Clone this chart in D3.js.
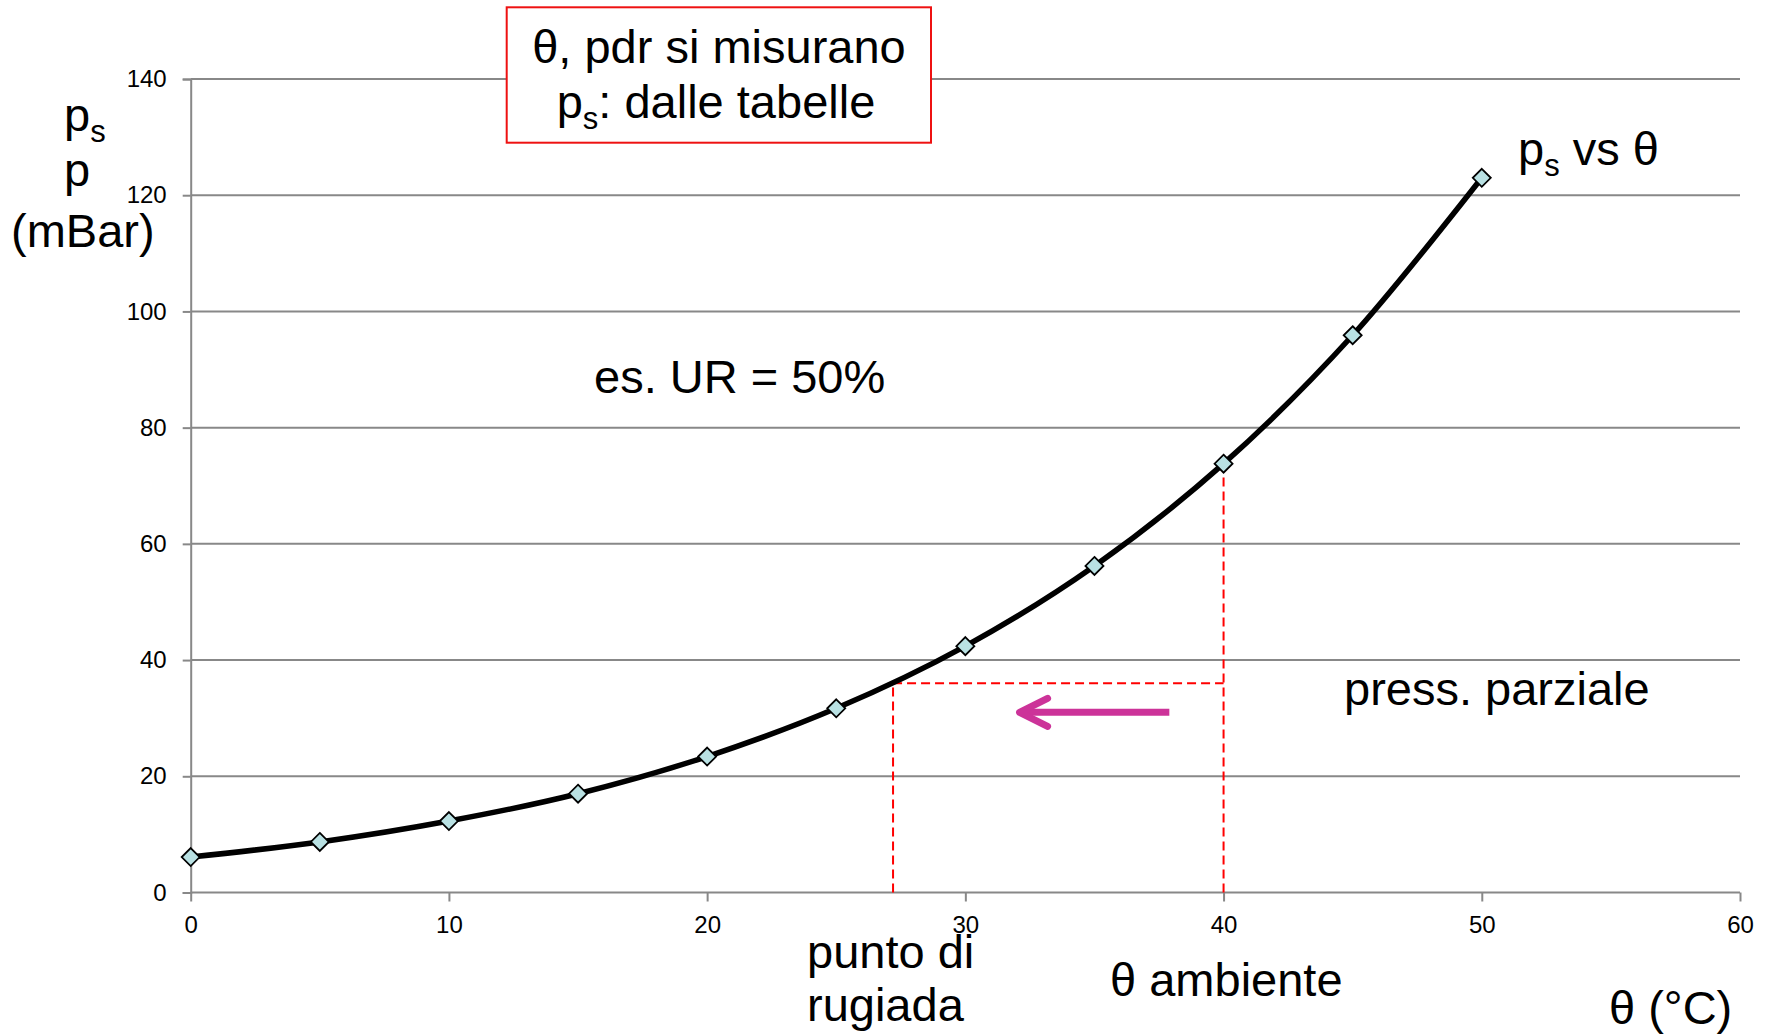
<!DOCTYPE html>
<html>
<head>
<meta charset="utf-8">
<script src="https://cdn.jsdelivr.net/npm/d3@7"></script>
<style>
  body { margin: 0; background: #fff; }
  svg { display: block; font-family: "Liberation Sans", Arial, sans-serif; }
</style>
</head>
<body>
<svg id="chart" width="1769" height="1035"></svg>
<script>
// saturation pressure
const temps = [0, 5, 10, 15, 20, 25, 30, 35, 40, 45, 50]
const psat = [6.1, 8.7, 12.3, 17.0, 23.4, 31.7, 42.4, 56.2, 73.8, 95.9, 123.0]
const xTicks = [0, 10, 20, 30, 40, 50, 60]
const yTicks = [0, 20, 40, 60, 80, 100, 120, 140]

// example: ambient 40 C, partial pressure ~36 mbar, dew point ~27.2 C
const tAmb = 40
const pAmb = 73.8
const pPart = 36.0
const tDew = 27.2
const arrowFrom = 37.9, arrowTo = 32.1, arrowP = 31.0

const svg = d3.select("#chart")
const W = 1769, H = 1035

svg.append("rect").attr("width", W).attr("height", H).attr("fill", "#fff")

const x = d3.scaleLinear().domain([0, 60]).range([190.7, 1740])
const y = d3.scaleLinear().domain([0, 140]).range([892.5, 79])

const grey = "#888888"

// gridlines
svg.append("g")
  .selectAll("line")
  .data(yTicks.filter(d => d > 0))
  .enter().append("line")
  .attr("x1", x(0)).attr("x2", x(60))
  .attr("y1", d => y(d)).attr("y2", d => y(d))
  .attr("stroke", grey).attr("stroke-width", 2)

// y axis
let yAxis = svg.append("g")
  .attr("transform", `translate(${x(0)},0)`)
  .call(d3.axisLeft(y).tickValues(yTicks).tickSize(8).tickPadding(16))
yAxis.select(".domain").attr("stroke", grey).attr("stroke-width", 2)
yAxis.selectAll(".tick line").attr("stroke", grey).attr("stroke-width", 2)
yAxis.selectAll("text").attr("font-size", 24).attr("fill", "#000")
  .attr("font-family", "Liberation Sans, Arial, sans-serif")

// x axis
let xAxis = svg.append("g")
  .attr("transform", `translate(0,${y(0)})`)
  .call(d3.axisBottom(x).tickValues(xTicks).tickSize(9).tickPadding(14))
xAxis.select(".domain").attr("stroke", grey).attr("stroke-width", 2)
  .attr("d", `M${x(0)},0H${x(60)}`)
xAxis.selectAll(".tick line").attr("stroke", grey).attr("stroke-width", 2)
xAxis.selectAll("text").attr("font-size", 24).attr("fill", "#000")
  .attr("font-family", "Liberation Sans, Arial, sans-serif")

// red dashed construction lines
const dash = "9,5"
svg.append("line")
  .attr("x1", x(tAmb)).attr("x2", x(tAmb))
  .attr("y1", y(0)).attr("y2", y(pAmb))
  .attr("stroke", "#ff0000").attr("stroke-width", 2).attr("stroke-dasharray", dash)
svg.append("line")
  .attr("x1", x(tDew)).attr("x2", x(tDew))
  .attr("y1", y(0)).attr("y2", y(pPart))
  .attr("stroke", "#ff0000").attr("stroke-width", 2).attr("stroke-dasharray", dash)
svg.append("line")
  .attr("x1", x(tDew)).attr("x2", x(tAmb))
  .attr("y1", y(pPart)).attr("y2", y(pPart))
  .attr("stroke", "#ff0000").attr("stroke-width", 2).attr("stroke-dasharray", dash)

// curve
const pts = temps.map((t, i) => [t, psat[i]])
const line = d3.line()
  .x(d => x(d[0])).y(d => y(d[1]))
  .curve(d3.curveCatmullRom.alpha(0.5))
svg.append("path")
  .datum(pts)
  .attr("d", line)
  .attr("fill", "none").attr("stroke", "#000").attr("stroke-width", 5.5)

// diamond markers
svg.append("g")
  .selectAll("path")
  .data(pts)
  .enter().append("path")
  .attr("transform", d => `translate(${x(d[0])},${y(d[1])})`)
  .attr("d", "M0,-9L9,0L0,9L-9,0Z")
  .attr("fill", "#b9e1e3").attr("stroke", "#000").attr("stroke-width", 1.8)

// magenta arrow
const ax1 = x(arrowFrom), ax2 = x(arrowTo), ay = y(arrowP)
const arrow = svg.append("g")
  .attr("stroke", "#cc3399").attr("stroke-width", 7)
  .attr("stroke-linecap", "round").attr("stroke-linejoin", "round").attr("fill", "none")
arrow.append("line").attr("x1", ax1).attr("x2", ax2 + 4).attr("y1", ay).attr("y2", ay)
  .attr("stroke-linecap", "butt")
arrow.append("path")
  .attr("d", `M${ax2 + 28},${ay - 14}L${ax2},${ay}L${ax2 + 28},${ay + 14}`)

// text boxes
const big = 47
const sub = 31

function label(xp, yp, parts, anchor) {
  let t = svg.append("text")
    .attr("x", xp).attr("y", yp)
    .attr("font-size", big).attr("fill", "#000")
    .attr("text-anchor", anchor || "start")
  let shift = 0
  parts.forEach(p => {
    let s = t.append("tspan").text(p.t)
    if (p.sub) {
      s.attr("font-size", sub).attr("dy", 11 - shift)
      shift = 11
    } else if (shift) {
      s.attr("dy", -shift)
      shift = 0
    }
  })
  return t
}

// red box
svg.append("rect")
  .attr("x", 506.7).attr("y", 7.3)
  .attr("width", 424.3).attr("height", 135.4)
  .attr("fill", "#fff").attr("stroke", "#ee1111").attr("stroke-width", 2)
label(719, 63, [{ t: "θ, pdr si misurano" }], "middle")
label(716, 118, [{ t: "p" }, { t: "s", sub: true }, { t: ": dalle tabelle" }], "middle")

// y axis title
label(64, 131, [{ t: "p" }, { t: "s", sub: true }])
label(64, 186, [{ t: "p" }])
label(11, 247, [{ t: "(mBar)" }])

label(1518, 165, [{ t: "p" }, { t: "s", sub: true }, { t: " vs θ" }])
label(594, 393, [{ t: "es. UR = 50%" }])
label(1344, 705, [{ t: "press. parziale" }])
label(807, 968, [{ t: "punto di" }])
label(807, 1021, [{ t: "rugiada" }])
label(1110, 996, [{ t: "θ ambiente" }])
label(1609, 1024, [{ t: "θ (°C)" }])
</script>
</body>
</html>
